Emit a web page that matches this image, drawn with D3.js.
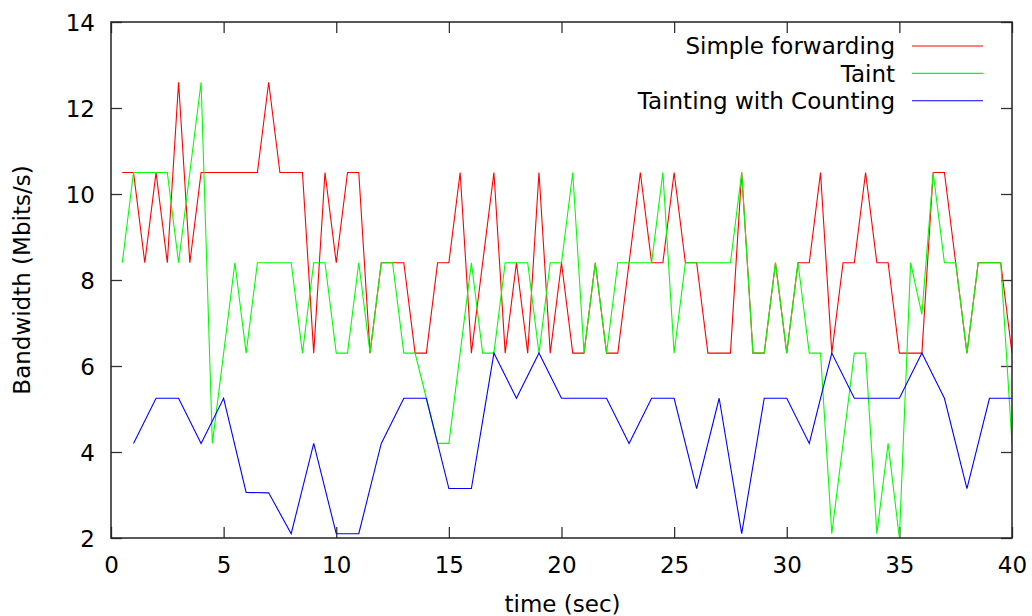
<!DOCTYPE html>
<html>
<head>
<meta charset="utf-8">
<script src="https://cdn.jsdelivr.net/npm/d3@7"></script>
<style>
  html, body { margin: 0; padding: 0; background: #fff; }
  svg { display: block; font-family: "DejaVu Sans", sans-serif; }
</style>
</head>
<body>
<svg id="chart" width="1032" height="616"></svg>
<script>
// Bandwidth samples (Mbits/s), half-second sampling from 0.5 s to 40 s
const halfSecondTimes = d3.range(1, 81).map(i => i * 0.5);
const simpleForwarding = [
  10.5, 10.5, 8.4, 10.5, 8.4, 12.6, 8.4, 10.5, 10.5, 10.5,
  10.5, 10.5, 10.5, 12.6, 10.5, 10.5, 10.5, 6.3, 10.5, 8.4,
  10.5, 10.5, 6.3, 8.4, 8.4, 8.4, 6.3, 6.3, 8.4, 8.4,
  10.5, 6.3, 8.4, 10.5, 6.3, 8.4, 6.3, 10.5, 6.3, 8.4,
  6.3, 6.3, 8.4, 6.3, 6.3, 8.4, 10.5, 8.4, 8.4, 10.5,
  8.4, 8.4, 6.3, 6.3, 6.3, 10.5, 6.3, 6.3, 8.4, 6.3,
  8.4, 8.4, 10.5, 6.3, 8.4, 8.4, 10.5, 8.4, 8.4, 6.3,
  6.3, 6.3, 10.5, 10.5, 8.4, 6.3, 8.4, 8.4, 8.4, 6.3
];
const taint = [
  8.4, 10.5, 10.5, 10.5, 10.5, 8.4, 10.5, 12.6, 4.2, 6.3,
  8.4, 6.3, 8.4, 8.4, 8.4, 8.4, 6.3, 8.4, 8.4, 6.3,
  6.3, 8.4, 6.3, 8.4, 8.4, 6.3, 6.3, 5.25, 4.2, 4.2,
  6.3, 8.4, 6.3, 6.3, 8.4, 8.4, 8.4, 6.3, 8.4, 8.4,
  10.5, 6.3, 8.4, 6.3, 8.4, 8.4, 8.4, 8.4, 10.5, 6.3,
  8.4, 8.4, 8.4, 8.4, 8.4, 10.5, 6.3, 6.3, 8.4, 6.3,
  8.4, 6.3, 6.3, 2.1, 4.2, 6.3, 6.3, 2.1, 4.2, 2.0,
  8.4, 7.2, 10.5, 8.4, 8.4, 6.3, 8.4, 8.4, 8.4, 4.2
];
// Counting variant is sampled once per second, 1 s to 40 s
const secondTimes = d3.range(1, 41);
const taintingWithCounting = [
  4.2, 5.25, 5.25, 4.2, 5.25, 3.06, 3.05, 2.1, 4.2, 2.1,
  2.1, 4.2, 5.25, 5.25, 3.15, 3.15, 6.3, 5.25, 6.3, 5.25,
  5.25, 5.25, 4.2, 5.25, 5.25, 3.15, 5.25, 2.1, 5.25, 5.25,
  4.2, 6.3, 5.25, 5.25, 5.25, 6.3, 5.25, 3.15, 5.25, 5.25
];

const seriesNames = ["Simple forwarding", "Taint", "Tainting with Counting"];
const seriesColors = ["#ff0000", "#00ff00", "#0000ff"];
const xTicks = [0, 5, 10, 15, 20, 25, 30, 35, 40];
const yTicks = [2, 4, 6, 8, 10, 12, 14];
const xLabel = "time (sec)";
const yLabel = "Bandwidth (Mbits/s)";

const series = [
  { name: seriesNames[0], color: seriesColors[0], xs: halfSecondTimes, ys: simpleForwarding },
  { name: seriesNames[1], color: seriesColors[1], xs: halfSecondTimes, ys: taint },
  { name: seriesNames[2], color: seriesColors[2], xs: secondTimes, ys: taintingWithCounting }
];

const margin = { left: 111, right: 20, top: 22, bottom: 78 };
const W = 1032, H = 616;
const svg = d3.select("#chart");

const x = d3.scaleLinear().domain([0, 40]).range([margin.left, W - margin.right]);
const y = d3.scaleLinear().domain([2, 14]).range([H - margin.bottom, margin.top]);

svg.append("clipPath").attr("id", "plot-clip")
  .append("rect")
  .attr("x", x(0)).attr("y", y(14))
  .attr("width", x(40) - x(0)).attr("height", y(2) - y(14));

const tickLen = 11;
const fontSize = 23;

// Axes: labelled bottom/left, mirrored ticks on top/right (pointing inward)
const gx = svg.append("g").attr("transform", `translate(0,${y(2)})`)
  .call(d3.axisBottom(x).tickValues(xTicks).tickSizeInner(-tickLen).tickSizeOuter(0));
const gxTop = svg.append("g").attr("transform", `translate(0,${y(14)})`)
  .call(d3.axisTop(x).tickValues(xTicks).tickSizeInner(-tickLen).tickSizeOuter(0).tickFormat(""));
const gy = svg.append("g").attr("transform", `translate(${x(0)},0)`)
  .call(d3.axisLeft(y).tickValues(yTicks).tickSizeInner(-tickLen).tickSizeOuter(0).tickPadding(16));
const gyRight = svg.append("g").attr("transform", `translate(${x(40)},0)`)
  .call(d3.axisRight(y).tickValues(yTicks).tickSizeInner(-tickLen).tickSizeOuter(0).tickFormat(""));

[gx, gxTop, gy, gyRight].forEach(g => {
  g.select(".domain").remove();
  g.selectAll(".tick line").attr("stroke", "#333").attr("stroke-width", 1.3);
  g.selectAll(".tick text")
    .attr("fill", "#000")
    .attr("font-size", fontSize)
    .attr("font-family", "DejaVu Sans, sans-serif");
});
gy.selectAll(".tick text").attr("dy", "0.35em");
gx.selectAll(".tick text").attr("dy", "0.35em").attr("y", 27);

// Data lines
const line = d3.line()
  .x(d => x(d[0]))
  .y(d => y(d[1]));

const plot = svg.append("g").attr("clip-path", "url(#plot-clip)");
series.forEach(s => {
  const pts = s.xs.map((t, i) => [t, s.ys[i]]);
  plot.append("path")
    .datum(pts)
    .attr("fill", "none")
    .attr("stroke", s.color)
    .attr("stroke-width", 1.1)
    .attr("stroke-linejoin", "miter")
    .attr("d", line);
});

// Frame
svg.append("rect")
  .attr("x", x(0)).attr("y", y(14))
  .attr("width", x(40) - x(0)).attr("height", y(2) - y(14))
  .attr("fill", "none")
  .attr("stroke", "#222")
  .attr("stroke-width", 1.5);

// Axis titles
svg.append("text")
  .attr("x", (x(0) + x(40)) / 2 + 1)
  .attr("y", 604)
  .attr("dy", "0.35em")
  .attr("text-anchor", "middle")
  .attr("font-size", fontSize)
  .attr("fill", "#000")
  .text(xLabel);

svg.append("text")
  .attr("transform", `translate(22,${(y(2) + y(14)) / 2}) rotate(-90)`)
  .attr("dy", "0.35em")
  .attr("text-anchor", "middle")
  .attr("font-size", fontSize)
  .attr("fill", "#000")
  .text(yLabel);

// Legend (top right: right-aligned text, sample line after)
const legendTextRight = 895;
const legendLineX0 = 912, legendLineX1 = 983;
const legendY0 = 46, legendStep = 27.4;
const legend = svg.append("g");
series.forEach((s, i) => {
  const ly = legendY0 + i * legendStep;
  legend.append("text")
    .attr("x", legendTextRight)
    .attr("y", ly)
    .attr("dy", "0.36em")
    .attr("text-anchor", "end")
    .attr("font-size", fontSize)
    .attr("fill", "#000")
    .text(s.name);
  legend.append("line")
    .attr("x1", legendLineX0).attr("x2", legendLineX1)
    .attr("y1", ly).attr("y2", ly)
    .attr("stroke", s.color)
    .attr("stroke-width", 1.1);
});
</script>
</body>
</html>
